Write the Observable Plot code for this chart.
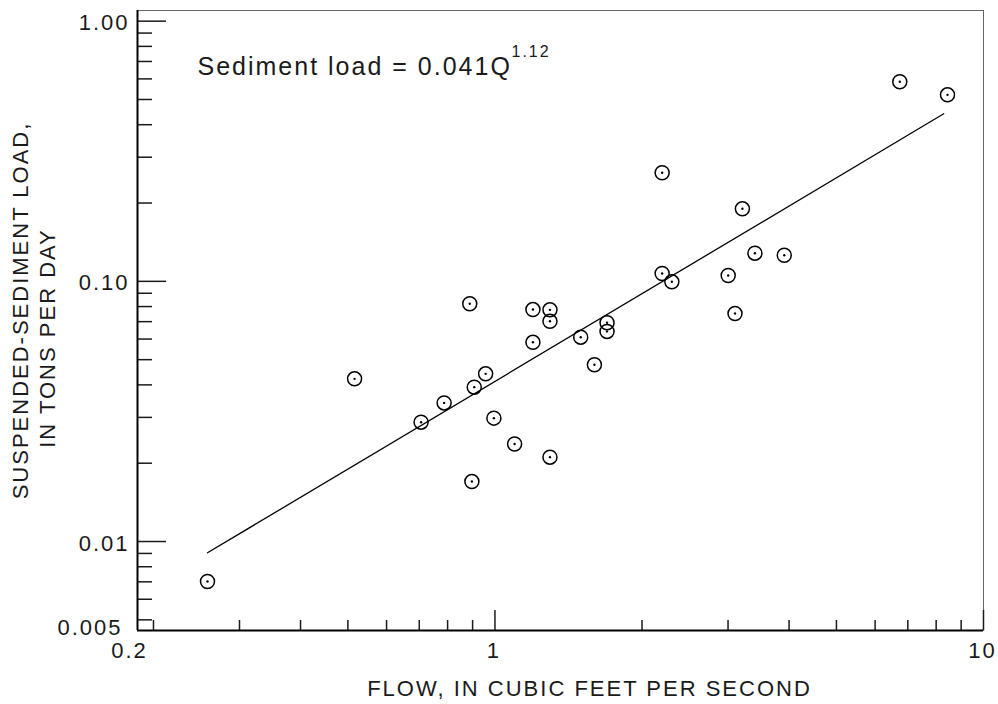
<!DOCTYPE html>
<html><head><meta charset="utf-8">
<script src="https://cdn.jsdelivr.net/npm/d3@7"></script>
<script src="https://cdn.jsdelivr.net/npm/@observablehq/plot@0.6"></script>
<style>body{margin:0;background:#fff} svg{display:block}</style>
</head><body><div id="chart"></div>
<script>
// Observed samples: flow (cubic feet per second) and suspended-sediment load (tons per day)
const flow = [0.258, 0.516, 0.706, 0.787, 0.888, 0.897, 0.907, 0.957, 0.995, 1.097,
              1.196, 1.196, 1.296, 1.296, 1.296, 1.498, 1.598, 1.696, 1.696, 2.199,
              2.199, 2.302, 3.002, 3.10, 3.21, 3.405, 3.91, 6.74, 8.44];
const load = [0.00702, 0.0422, 0.02875, 0.0341, 0.0820, 0.0170, 0.0392, 0.0441, 0.0298, 0.0237,
              0.0779, 0.0583, 0.0777, 0.0702, 0.0211, 0.0610, 0.0478, 0.0693, 0.0642, 0.2615,
              0.1072, 0.0996, 0.1053, 0.0752, 0.190, 0.1283, 0.126, 0.585, 0.521];

// Fitted line end points (Sediment load = 0.041 Q^1.12)
const fitFlow = [0.258, 8.29];
const fitLoad = [0.00905, 0.4406];

// Axis domains and ticks
const xDomain = [0.1855, 10];
const yDomain = [0.00455, 1.099];
const xMajorTicks = [1, 10];
const xMinorTicks = [0.2, 0.3, 0.4, 0.5, 0.6, 0.7, 0.8, 0.9, 2, 3, 4, 5, 6, 7, 8, 9];
const yMajorTicks = [0.01, 0.1, 1];
const yMinorTicks = [0.005, 0.006, 0.007, 0.008, 0.009,
                     0.02, 0.03, 0.04, 0.05, 0.06, 0.07, 0.08, 0.09,
                     0.2, 0.3, 0.4, 0.5, 0.6, 0.7, 0.8, 0.9];
const xTickValues = [0.2, 1, 10];
const xTickLabels = ["0.2", "1", "10"];
const yTickValues = [1, 0.1, 0.01, 0.005];
const yTickLabels = ["1.00", "0.10", "0.01", "0.005"];

const xTitle = "FLOW, IN CUBIC FEET PER SECOND";
const yTitle1 = "SUSPENDED-SEDIMENT LOAD,";
const yTitle2 = "IN TONS PER DAY";
const eqText = "Sediment load = 0.041Q";
const eqExp = "1.12";

const points = flow.map((q, i) => ({q, s: load[i]}));
const fit = fitFlow.map((q, i) => ({q, s: fitLoad[i]}));

const W = 998, H = 704, mL = 137, mR = 15, mT = 10, mB = 74;
const frameH = H - mT - mB, frameW = W - mL - mR;
const ink = "#1a1a1a";

const chart = Plot.plot({
  width: W, height: H,
  marginLeft: mL, marginRight: mR, marginTop: mT, marginBottom: mB,
  style: {fontFamily: "'Liberation Sans', Arial, Helvetica, sans-serif", background: "#fff", color: ink, letterSpacing: "2px", overflow: "visible"},
  x: {type: "log", domain: xDomain, axis: null},
  y: {type: "log", domain: yDomain, axis: null},
  marks: [
    Plot.frame({stroke: "#666", strokeWidth: 1}),
    // minor / major ticks (inward)
    Plot.tickX(xMinorTicks, {x: d => d, insetTop: frameH - 10, stroke: ink, strokeWidth: 1.5}),
    Plot.tickX(xMajorTicks, {x: d => d, insetTop: frameH - 20, stroke: ink, strokeWidth: 1.5}),
    Plot.tickY(yMinorTicks, {y: d => d, insetRight: frameW - 15, stroke: ink, strokeWidth: 1.5}),
    Plot.tickY(yMajorTicks, {y: d => d, insetRight: frameW - 29, stroke: ink, strokeWidth: 1.5}),
    // axis lines
    Plot.ruleX([xDomain[0]], {stroke: "#000", strokeWidth: 2}),
    Plot.ruleY([yDomain[0]], {stroke: "#000", strokeWidth: 2}),
    // tick labels
    Plot.text(yTickValues.slice(0, 3), {y: d => d, text: (d, i) => yTickLabels[i], frameAnchor: "left", textAnchor: "end", lineAnchor: "middle", dx: -8, dy: 2, fontSize: 22, fill: ink}),
    Plot.text(yTickValues.slice(3), {y: d => d, text: (d, i) => yTickLabels[3 + i], frameAnchor: "left", textAnchor: "end", lineAnchor: "middle", dx: -15, dy: 8, fontSize: 22, fill: ink}),
    Plot.text(xTickValues.slice(1), {x: d => d, text: (d, i) => xTickLabels[1 + i], frameAnchor: "bottom", textAnchor: "middle", lineAnchor: "top", dx: -1, dy: 12, fontSize: 22, fill: ink}),
    Plot.text(xTickValues.slice(0, 1), {x: d => d, text: (d, i) => xTickLabels[i], frameAnchor: "bottom", textAnchor: "middle", lineAnchor: "top", dx: -24, dy: 12, fontSize: 22, fill: ink}),
    // axis titles
    Plot.text([xTitle], {text: d => d, frameAnchor: "bottom", textAnchor: "middle", lineAnchor: "top", dx: 29, dy: 50, fontSize: 22, fill: ink, ariaLabel: "xtitle"}),
    Plot.text([yTitle1], {text: d => d, frameAnchor: "left", rotate: -90, textAnchor: "middle", lineAnchor: "middle", dx: -116.5, dy: -10, fontSize: 22, fill: ink, ariaLabel: "ytitle1"}),
    Plot.text([yTitle2], {text: d => d, frameAnchor: "left", rotate: -90, textAnchor: "middle", lineAnchor: "middle", dx: -89.5, dy: 17.5, fontSize: 22, fill: ink, ariaLabel: "ytitle2"}),
    // equation
    Plot.text([eqText], {text: d => d, frameAnchor: "top-left", textAnchor: "start", lineAnchor: "top", dx: 60, dy: 47, fontSize: 25, fill: ink, ariaLabel: "equation"}),
    Plot.text([eqExp], {text: d => d, frameAnchor: "top-left", textAnchor: "start", lineAnchor: "top", dx: 374, dy: 35, fontSize: 16, fill: ink}),
    // fitted line
    Plot.line(fit, {x: "q", y: "s", stroke: "#000", strokeWidth: 1.3}),
    // data points: circle with centre dot
    Plot.dot(points, {x: "q", y: "s", r: 7, stroke: "#000", strokeWidth: 1.5, fill: "none"}),
    Plot.dot(points, {x: "q", y: "s", r: 1.2, fill: "#000", stroke: null})
  ]
});
// per-text letter spacing to match the reference's spread lettering
d3.select(chart).select('g[aria-label="xtitle"]').style("letter-spacing", "1.8px");
d3.select(chart).select('g[aria-label="ytitle1"]').style("letter-spacing", "2.3px");
d3.select(chart).select('g[aria-label="ytitle2"]').style("letter-spacing", "4.5px");
d3.select(chart).select('g[aria-label="equation"]').style("letter-spacing", "1.7px");
document.getElementById("chart").appendChild(chart);
</script>
</body></html>
